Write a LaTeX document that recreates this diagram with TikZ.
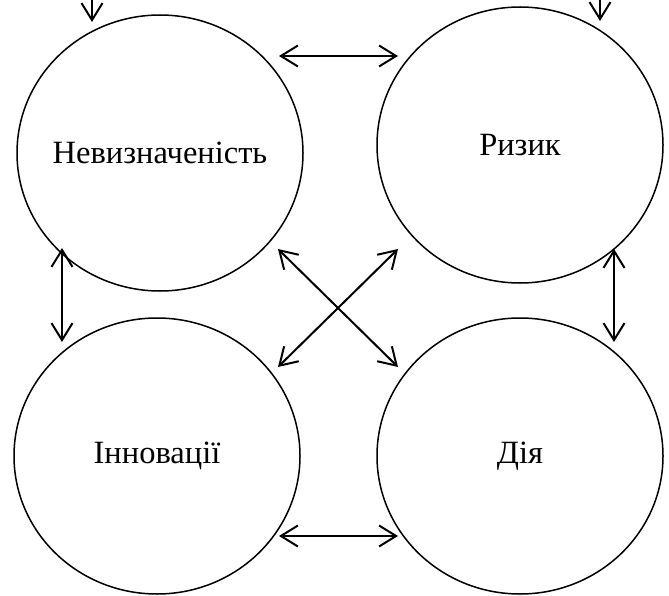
\documentclass[tikz,border=0pt]{standalone}
\usepackage{fontspec}
\setmainfont{Liberation Serif}
\usetikzlibrary{shapes.geometric,arrows.meta}
\begin{document}
\begin{tikzpicture}[x=1pt,y=-1pt,
  blob/.style={draw, line width=1.5pt, ellipse, minimum width=286pt, minimum height=276pt, inner sep=0pt},
  lbl/.style={font=\fontsize{32.5}{38}\selectfont, inner sep=0pt},
  link/.style={line width=2pt, {Straight Barb[length=17pt,width=21pt,line width=2pt]}-{Straight Barb[length=17pt,width=21pt,line width=2pt]}},
  inlink/.style={line width=2pt, -{Straight Barb[length=17pt,width=21pt,line width=2pt]}}]
\useasboundingbox (0,0) rectangle (669,596);
\node[blob] (u) at (160,153) {};
\node[blob] (r) at (520,145) {};
\node[blob] (i) at (157,456) {};
\node[blob] (d) at (520,456) {};
\node[lbl] (ut) at (u.center) {Невизначеність};
\node[lbl] (rt) at (r.center) {Ризик};
\node[lbl] (it) at (i.center) {Інновації};
\node[lbl] (dt) at (d.center) {Дія};
% connector end points
\coordinate (utop) at (279,56);   \coordinate (rtop) at (398,56);
\coordinate (ibot) at (279,536);  \coordinate (dbot) at (398,536);
\coordinate (uleft) at (62,248);  \coordinate (ileft) at (62,342);
\coordinate (rright) at (614,249); \coordinate (dright) at (614,342);
\coordinate (udiag) at (278,249); \coordinate (ddiag) at (398,367);
\coordinate (rdiag) at (398,249); \coordinate (idiag) at (278,367);
\coordinate (uin0) at (92,0); \coordinate (uin1) at (92,22);
\coordinate (rin0) at (600,0); \coordinate (rin1) at (600,21);
\draw[link] (utop) -- (rtop);
\draw[link] (ibot) -- (dbot);
\draw[link] (uleft) -- (ileft);
\draw[link] (rright) -- (dright);
\draw[link] (udiag) -- (ddiag);
\draw[link] (rdiag) -- (idiag);
\draw[inlink] (uin0) -- (uin1);
\draw[inlink] (rin0) -- (rin1);
\end{tikzpicture}
\end{document}
